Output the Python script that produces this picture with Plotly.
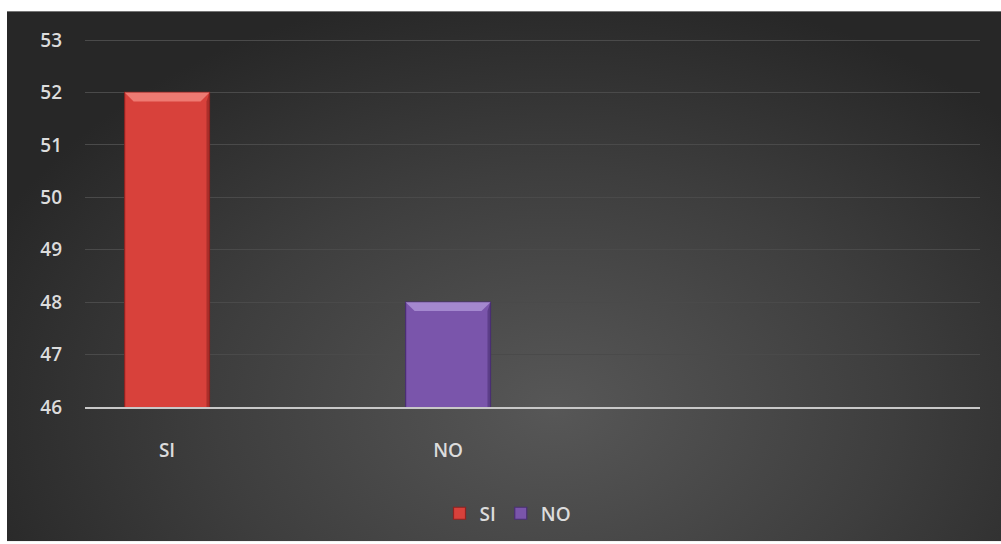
import base64
import plotly.graph_objects as go

# Survey answers
categories = ["SI", "NO"]
values = [52, 48]
bar_colors = ["#d8413b", "#7a55ab"]
edge_colors = ["#8e2320", "#4a2f73"]
top_colors = ["#ee7a72", "#a488cf"]
y_ticks = [46, 47, 48, 49, 50, 51, 52, 53]

# plot area in page pixels
W, H = 1001, 544
L, R, T, B = 85, 980, 39, 409
pw, ph = R - L, B - T

bar_w = 0.302
x_range = [-0.292, 2.893]
y_range = [46, 53.02]

fig = go.Figure()
for name, v, c, ec in zip(categories, values, bar_colors, edge_colors):
    fig.add_trace(go.Bar(
        x=[name], y=[v], name=name, width=bar_w,
        marker=dict(color=c, line=dict(color=ec, width=1.2)),
        showlegend=True,
    ))

# bevel highlight on top of each bar and a darker right side
shapes = []
ux = (x_range[1] - x_range[0]) / pw
uy = (y_range[1] - y_range[0]) / ph
for i, (v, tc, ec) in enumerate(zip(values, top_colors, edge_colors)):
    x0, x1 = i - bar_w / 2, i + bar_w / 2
    dx, dy = 9 * ux, 9 * uy
    shapes.append(dict(
        type="path", xref="x", yref="y",
        path=f"M {x0},{v} L {x1},{v} L {x1 - dx},{v - dy} L {x0 + dx},{v - dy} Z",
        fillcolor=tc, line=dict(width=0), layer="above",
    ))
    shapes.append(dict(
        type="path", xref="x", yref="y",
        path=f"M {x1},{v} L {x1},{y_range[0]} L {x1 - 3 * ux},{y_range[0]} L {x1 - 3 * ux},{v - dy} Z",
        fillcolor=ec, opacity=0.6, line=dict(width=0), layer="above",
    ))

# dark radial-gradient chart background
bg_w, bg_h = W - 7, H - 11
svg = f"""<svg xmlns='http://www.w3.org/2000/svg' width='{bg_w}' height='{bg_h}' viewBox='0 0 {bg_w} {bg_h}' preserveAspectRatio='none'>
<defs><radialGradient id='g' cx='0.55' cy='0.75' r='0.62' gradientTransform='translate(0.55 0.75) scale(1 1.3) translate(-0.55 -0.75)'>
<stop offset='0' stop-color='#575757'/><stop offset='0.55' stop-color='#3e3e3e'/><stop offset='1' stop-color='#272727'/>
</radialGradient></defs>
<rect width='{bg_w}' height='{bg_h}' fill='url(#g)'/></svg>"""
src = "data:image/svg+xml;base64," + base64.b64encode(svg.encode()).decode()

label_font = dict(family="Open Sans", size=19, color="#dcdcdc", weight=600)

fig.update_layout(
    width=W, height=H,
    margin=dict(l=L, r=W - R, t=T, b=H - B),
    paper_bgcolor="white", plot_bgcolor="rgba(0,0,0,0)",
    barmode="overlay",
    shapes=shapes,
    images=[dict(
        source=src, xref="paper", yref="paper",
        x=(7 - L) / pw, y=(B - 11) / ph,
        sizex=bg_w / pw, sizey=bg_h / ph,
        xanchor="left", yanchor="top", sizing="stretch", layer="below",
    )],
    font=dict(family="Open Sans", color="#dcdcdc", size=15),
    legend=dict(
        orientation="h", x=(508 - L) / pw, xanchor="center",
        y=(B - 516) / ph, yanchor="middle",
        font=label_font,
        bgcolor="rgba(0,0,0,0)", itemwidth=30, tracegroupgap=0,
    ),
    xaxis=dict(
        type="category", categoryorder="array", categoryarray=categories,
        range=x_range, showgrid=False, zeroline=False,
        showline=True, linecolor="#c8c8c8", linewidth=2,
        ticks="", ticklabelstandoff=25,
        tickfont=label_font,
    ),
    yaxis=dict(
        range=y_range, tickvals=y_ticks, showgrid=True,
        gridcolor="#4a4a4a", gridwidth=1, zeroline=False, showline=False,
        ticks="", ticklabelstandoff=22,
        tickfont=label_font,
    ),
)

fig.write_html("out.html")
